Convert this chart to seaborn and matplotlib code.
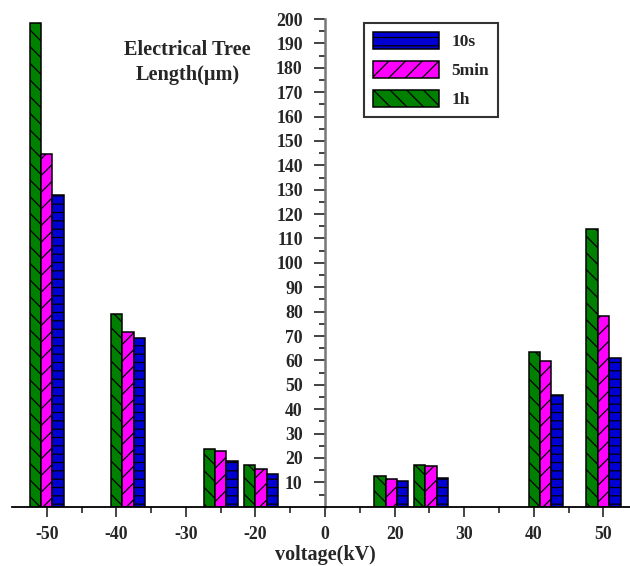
import numpy as np
import pandas as pd
import matplotlib
matplotlib.use("Agg")
import matplotlib.pyplot as plt
from matplotlib.ticker import FixedLocator
import seaborn as sns

# Tick values of the voltage axis (kV); the axis steps from -20 straight to 0 and 20
tick_kv = [-50, -40, -30, -20, 0, 20, 30, 40, 50]

# Applied voltage of each bar group (kV)
voltage_kv = [-50, -38.3, -25, -18.4, 19, 25.2, 41.7, 50]

# Electrical tree length (um) for each ageing time
length_1h = [198.5, 79.1, 23.5, 17.2, 12.7, 17.1, 63.5, 113.8]
length_5min = [144.8, 71.6, 23.0, 15.3, 11.2, 16.5, 59.8, 78.2]
length_10s = [128.0, 69.1, 18.6, 13.5, 10.7, 11.9, 45.9, 60.9]

durations = ["1h", "5min", "10s"]
legend_order = ["10s", "5min", "1h"]

sns.set_style("ticks")
plt.rcParams["font.family"] = ["Liberation Serif", "DejaVu Serif"]
plt.rcParams["font.weight"] = "bold"
plt.rcParams["axes.labelweight"] = "bold"
plt.rcParams["hatch.linewidth"] = 0.9
plt.rcParams["hatch.color"] = "black"

palette = {"1h": "#008000", "5min": "#FF00FF", "10s": "#0000D2"}
hatches = {"1h": "\\\\", "5min": "//", "10s": "--"}

# map voltages onto the broken axis (one tick slot per label)
slots = np.arange(len(tick_kv))
pos = np.interp(voltage_kv, tick_kv, slots)

df = pd.DataFrame({
    "pos": np.tile(pos, len(durations)),
    "length": length_1h + length_5min + length_10s,
    "duration": np.repeat(durations, len(pos)),
})

W, H = 630, 566
fig = plt.figure(figsize=(W / 100, H / 100), dpi=100)
ax = fig.add_axes([12 / W, 59.3 / H, 618 / W, 487.7 / H])

group_width = 0.49
width = group_width / np.min(np.diff(np.sort(pos)))
sns.barplot(data=df, x="pos", y="length", hue="duration", hue_order=durations,
            palette=palette, native_scale=True, width=width, dodge=True,
            errorbar=None, saturation=1, edgecolor="black", linewidth=1.1,
            legend=False, ax=ax)

for level, container in zip(durations, ax.containers):
    for bar in container:
        bar.set_hatch(hatches[level])

ax.set_xlim(-0.4986, 8.381)
ax.set_ylim(0, 200)

# y axis drawn through the 0 kV tick
ax.spines["left"].set_position(("data", 4))
ax.spines["left"].set_color("#777777")
ax.spines["left"].set_linewidth(1.8)
ax.spines["bottom"].set_linewidth(1.3)
ax.spines["bottom"].set_color("black")
ax.spines["right"].set_visible(False)
ax.spines["top"].set_visible(False)

ax.yaxis.set_major_locator(FixedLocator(np.arange(10, 201, 10)))
ax.yaxis.set_minor_locator(FixedLocator(np.arange(5, 200, 10)))
ax.tick_params(axis="y", which="major", direction="out", length=8, width=1.2,
               pad=8, labelsize=12.8, color="#222222")
ax.tick_params(axis="y", which="minor", direction="out", length=4.5, width=1.2,
               color="#222222")

ax.set_xticks(slots, labels=[str(v) for v in tick_kv])
ax.xaxis.set_minor_locator(FixedLocator(np.arange(-0.5, 8, 1)))
ax.tick_params(axis="x", which="major", direction="out", length=7, width=1.2,
               pad=7, labelsize=12.8)
ax.tick_params(axis="x", which="minor", direction="out", length=4, width=1.2)

ax.set_ylabel("")
ax.set_xlabel("voltage(kV)", fontsize=14.5, fontweight="bold")
ax.xaxis.set_label_coords((325 - 12) / 618, -0.078)

fig.text(187.5 / W, 1 - 62.5 / H, "Electrical Tree\nLength(\u03bcm)", ha="center",
         va="center", fontsize=14.6, fontweight="bold", linespacing=1.3)

handles = {lvl: c.patches[0] for lvl, c in zip(durations, ax.containers)}
leg = ax.legend([handles[l] for l in legend_order], legend_order,
                loc="upper left", bbox_to_anchor=(364 / W, 1 - 23 / H),
                bbox_transform=fig.transFigure, borderaxespad=0,
                prop={"size": 12.5, "weight": "bold"}, handlelength=3.8,
                handleheight=1.15, handletextpad=0.75, labelspacing=0.6,
                borderpad=0.5, fancybox=False, framealpha=1, edgecolor="#333333")
leg.get_frame().set_linewidth(1.5)

fig.savefig("out.png", dpi=100)
